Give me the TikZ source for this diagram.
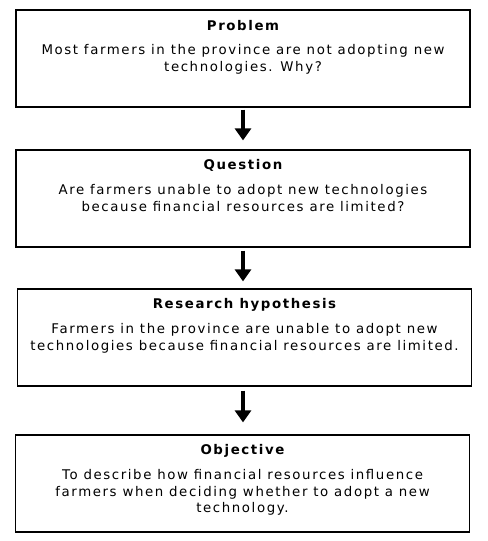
\documentclass[tikz,border=0pt]{standalone}
\usepackage{fontspec}
\setmainfont{DejaVu Sans}[LetterSpace=12]
\usepackage{tikz}
\usetikzlibrary{calc,arrows.meta}
\definecolor{bg}{HTML}{FFFFFF}
\definecolor{ink}{HTML}{000000}
\tikzset{
  stage/.style={draw=ink, line width=0.9pt, minimum width=340.5pt, minimum height=72.75pt, inner sep=0pt},
  stagehead/.style={font=\bfseries\fontsize{10}{12.4}\selectfont, text=ink, anchor=center},
  stagetext/.style={font=\fontsize{10}{12.4}\selectfont, text=ink, align=center, anchor=north, inner sep=0pt},
  flow/.style={-{Triangle[width=12pt,length=9pt]}, line width=2.4pt, color=ink},
}
\begin{document}
\begin{tikzpicture}[x=0.75pt,y=-0.75pt]
\useasboundingbox[fill=bg] (0,0) rectangle (487,541);
% boxes
\node[stage] (problem) at (243,58.5) {};
\node[stage] (question) at (243,198.5) {};
\node[stage] (hypothesis) at (244.5,337.5) {};
\node[stage] (objective) at (242.5,483.5) {};
% titles
\foreach \stg/\title in {problem/Problem,question/Question,hypothesis/Research hypothesis,objective/Objective}{
  \node[stagehead] (\stg-head) at ($(\stg.north)+(0,16.5)$) {\title};
}
% texts
\node[stagetext] (problem-text) at ($(problem.north)+(0,35)$)
  {Most farmers in the province are not adopting new\\technologies. Why?};
\node[stagetext] (question-text) at ($(question.north)+(0,35)$)
  {Are farmers unable to adopt new technologies\\because financial resources are limited?};
\node[stagetext] (hypothesis-text) at ($(hypothesis.north)+(0,35)$)
  {Farmers in the province are unable to adopt new\\technologies because financial resources are limited.};
\node[stagetext] (objective-text) at ($(objective.north)+(0,35)$)
  {To describe how financial resources influence\\farmers when deciding whether to adopt a new\\technology.};
% arrows
\draw[flow] ($(problem.south)+(0,2)$) -- ($(question.north)+(0,-9)$);
\draw[flow] ($(question.south)+(0,3)$) -- ($(hypothesis.north)+(-1.5,-7)$);
\draw[flow] ($(hypothesis.south)+(-1.5,4)$) -- ($(objective.north)+(0.5,-12)$);
\end{tikzpicture}
\end{document}
